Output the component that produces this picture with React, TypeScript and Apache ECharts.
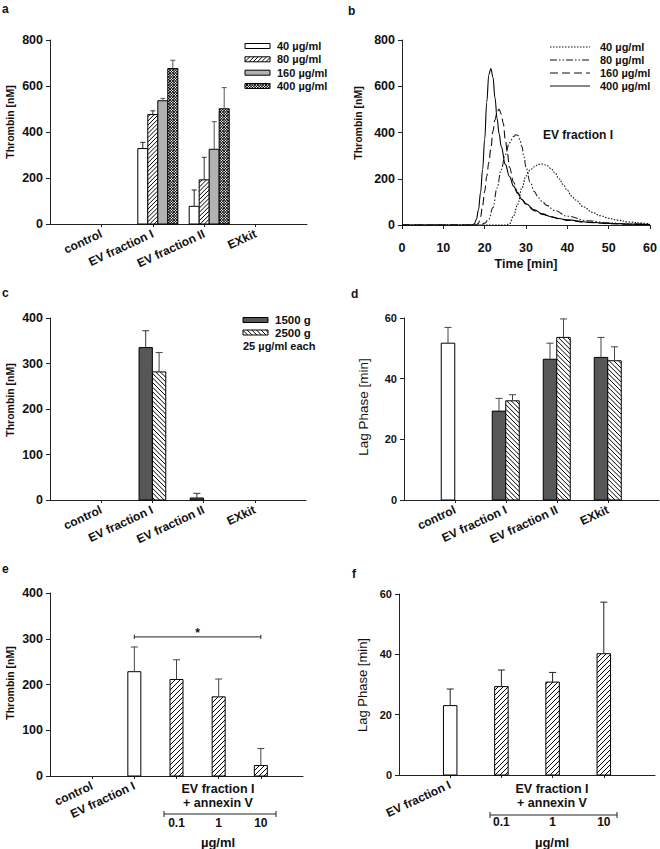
import React, { useEffect, useRef } from 'react';
import * as echarts from 'echarts';

const FONT = "'Liberation Sans', Arial, Helvetica, sans-serif";
const INK = '#111';
const AXIS = '#222';

// ---------- panel a : thrombin by dose ----------
const aCategories = ['control', 'EV fraction I', 'EV fraction II', 'EXkit'];
const aLegend = ['40 µg/ml', '80 µg/ml', '160 µg/ml', '400 µg/ml'];
const a40Mean = [null, 328, 77, null];
const a40Err = [null, 355, 148, null];
const a80Mean = [null, 476, 192, null];
const a80Err = [null, 492, 290, null];
const a160Mean = [null, 536, 325, null];
const a160Err = [null, 546, 445, null];
const a400Mean = [null, 676, 501, null];
const a400Err = [null, 712, 593, null];

// ---------- panel b : thrombin generation curves ----------
const bLegend = ['40 µg/ml', '80 µg/ml', '160 µg/ml', '400 µg/ml'];
const t40 = [0, 25, 26, 27, 28, 29, 30, 31, 32, 33, 34, 35, 36, 37, 38, 39, 40, 41, 42, 44, 46, 48, 50, 52, 55, 58, 60];
const v40 = [0, 0, 5, 40, 90, 160, 212, 238, 252, 262, 264, 258, 245, 225, 200, 175, 150, 126, 108, 78, 55, 40, 29, 21, 13, 8, 5];
const t80 = [0, 19, 20, 21, 22, 23, 24, 25, 26, 27, 27.5, 28, 28.5, 29, 29.5, 30, 31, 32, 33, 34, 35, 37, 40, 45, 50, 55, 60];
const v80 = [0, 0, 8, 25, 75, 160, 240, 305, 355, 382, 390, 388, 370, 340, 295, 250, 185, 145, 118, 100, 85, 62, 38, 18, 9, 4, 2];
const t160 = [0, 18, 18.5, 19, 19.5, 20, 20.5, 21, 21.5, 22, 22.5, 23, 23.5, 24, 24.5, 25, 25.5, 26, 27, 28, 29, 30, 32, 34, 36, 38, 40, 45, 50, 55, 60];
const v160 = [0, 0, 8, 35, 85, 145, 210, 270, 330, 405, 455, 490, 500, 480, 440, 370, 310, 250, 185, 140, 110, 90, 62, 46, 35, 27, 20, 11, 6, 3, 2];
const t400 = [0, 17, 17.5, 18, 18.5, 19, 19.5, 20, 20.5, 21, 21.5, 22, 22.5, 23, 23.5, 24, 25, 26, 27, 28, 29, 30, 32, 34, 36, 38, 40, 45, 50, 55, 60];
const v400 = [0, 0, 5, 25, 65, 140, 240, 370, 530, 650, 677, 640, 550, 460, 395, 340, 262, 210, 168, 136, 110, 92, 66, 48, 36, 28, 22, 12, 7, 4, 2];

// ---------- panel c : thrombin by centrifugation ----------
const cCategories = ['control', 'EV fraction I', 'EV fraction II', 'EXkit'];
const cLegend = ['1500 g', '2500 g'];
const c1500Mean = [null, 335, 4.4, null];
const c1500Err = [null, 372, 14.6, null];
const c2500Mean = [null, 281.5, null, null];
const c2500Err = [null, 324, null, null];

// ---------- panel d : lag phase by centrifugation ----------
const dCategories = ['control', 'EV fraction I', 'EV fraction II', 'EXkit'];
const dControlMean = [51.7, null, null, null];
const dControlErr = [56.9, null, null, null];
const d1500Mean = [null, 29.3, 46.4, 47.0];
const d1500Err = [null, 33.5, 51.7, 53.6];
const d2500Mean = [null, 32.7, 53.6, 45.9];
const d2500Err = [null, 34.7, 59.7, 50.5];

// ---------- panel e : thrombin with annexin V ----------
const eCategories = ['control', 'EV fraction I', '', '', ''];
const eDoses = ['', '', '0.1', '1', '10'];
const ePlainMean = [null, 228, null, null, null];
const ePlainErr = [null, 282, null, null, null];
const eAnnexMean = [null, null, 211, 173, 23];
const eAnnexErr = [null, null, 254, 212, 60];
const eSignificance = [[2, 5, 304]];

// ---------- panel f : lag phase with annexin V ----------
const fCategories = ['EV fraction I', '', '', ''];
const fDoses = ['', '0.1', '1', '10'];
const fPlainMean = [23.0, null, null, null];
const fPlainErr = [28.5, null, null, null];
const fAnnexMean = [null, 29.3, 30.8, 40.2];
const fAnnexErr = [null, 34.8, 34.0, 57.3];

// ---------- fills ----------
const FILL_WHITE = { bg: '#ffffff' };
const FILL_GRAY = { bg: '#b2b2b2' };
const FILL_DARK = { bg: '#575757' };
const FILL_FWD_A = { bg: '#ffffff', hatch: 'fwd', step: 4.2 };
const FILL_FWD = { bg: '#ffffff', hatch: 'fwd', step: 5 };
const FILL_BACK = { bg: '#ffffff', hatch: 'back', step: 4.6 };
const FILL_CROSS = { bg: '#ffffff', hatch: 'cross', step: 2.7 };

function seg(x1: number, y1: number, x2: number, y2: number, stroke = '#000', lineWidth = 1, lineDash?: number[]) {
  const style: any = { stroke, lineWidth };
  if (lineDash) style.lineDash = lineDash;
  return { type: 'line', shape: { x1, y1, x2, y2 }, style };
}

function hatchLines(x0: number, y0: number, x1: number, y1: number, kind: string, step: number) {
  const out: any[] = [];
  if (x1 - x0 <= 0 || y1 - y0 <= 0) return out;
  const kinds = kind === 'cross' ? ['fwd', 'back'] : [kind];
  const lw = 1;
  for (const k of kinds) {
    if (k === 'fwd') {
      const start = Math.ceil((x0 + y0) / step) * step;
      for (let c = start; c < x1 + y1; c += step) {
        const xa = Math.max(x0, c - y1);
        const xb = Math.min(x1, c - y0);
        if (xb - xa > 0.3) out.push(seg(xa, c - xa, xb, c - xb, '#000', lw));
      }
    } else {
      const start = Math.ceil((y0 - x1) / step) * step;
      for (let c = start; c < y1 - x0; c += step) {
        const xa = Math.max(x0, y0 - c);
        const xb = Math.min(x1, y1 - c);
        if (xb - xa > 0.3) out.push(seg(xa, xa + c, xb, xb + c, '#000', lw));
      }
    }
  }
  return out;
}

function swatch(x: number, y: number, w: number, h: number, fill: any) {
  const els: any[] = [{ type: 'rect', shape: { x, y, width: w, height: h }, style: { fill: fill.bg, stroke: 'none' } }];
  if (fill.hatch) els.push(...hatchLines(x, y, x + w, y + h, fill.hatch, fill.step));
  els.push({ type: 'rect', shape: { x, y, width: w, height: h }, style: { fill: 'none', stroke: '#000', lineWidth: 1 } });
  return els;
}

function makeBarRender(offset: number, width: number, fill: any, capW: number, errColor: string) {
  return (_params: any, api: any) => {
    const xi = api.value(0);
    const v = api.value(1);
    const e = api.value(2);
    const p0 = api.coord([xi, 0]);
    const p1 = api.coord([xi, v]);
    const cx = p0[0] + offset;
    const x0 = cx - width / 2;
    const yT = p1[1];
    const yB = p0[1];
    const children: any[] = swatch(x0, yT, width, Math.max(0, yB - yT), fill);
    if (e != null && !isNaN(e) && e > v) {
      const pe = api.coord([xi, e]);
      children.push(seg(cx, yT, cx, pe[1], errColor, 1));
      children.push(seg(cx - capW / 2, pe[1], cx + capW / 2, pe[1], errColor, 1));
    }
    return { type: 'group', children };
  };
}

function barSeries(name: string, grid: number, means: any[], errs: any[], offset: number, width: number, fill: any, capW: number, errColor = '#333') {
  const data = means
    .map((m, i) => (m == null ? null : [i + 1, m, errs[i]]))
    .filter((d) => d !== null);
  return {
    type: 'custom',
    name,
    xAxisIndex: grid,
    yAxisIndex: grid,
    data,
    encode: { x: 0, y: 1 },
    clip: false,
    renderItem: makeBarRender(offset, width, fill, capW, errColor),
  };
}

function yAxisCfg(grid: number, max: number, interval: number, fontSize: number) {
  return {
    type: 'value',
    gridIndex: grid,
    min: 0,
    max,
    interval,
    axisLine: { show: true, lineStyle: { color: AXIS, width: 1 } },
    axisTick: { show: true, inside: false, length: 4, lineStyle: { color: AXIS } },
    splitLine: { show: false },
    axisLabel: { color: INK, fontFamily: FONT, fontWeight: 'bold', fontSize, margin: 7 },
  };
}

function catAxisCfg(grid: number, cats: string[]) {
  const data = ['', ...cats, ''];
  return {
    type: 'category',
    gridIndex: grid,
    data,
    boundaryGap: false,
    axisLine: { show: true, onZero: false, lineStyle: { color: AXIS, width: 1 } },
    axisTick: { show: true, length: 3, interval: (i: number) => i > 0 && i < data.length - 1, lineStyle: { color: AXIS } },
    splitLine: { show: false },
    axisLabel: { interval: 0, rotate: 25, margin: 9, color: INK, fontFamily: FONT, fontWeight: 'bold', fontSize: 12 },
  };
}

function doseAxisCfg(grid: number, doses: string[]) {
  const data = ['', ...doses, ''];
  return {
    type: 'category',
    gridIndex: grid,
    data,
    boundaryGap: false,
    position: 'bottom',
    axisLine: { show: false },
    axisTick: { show: false },
    splitLine: { show: false },
    axisLabel: { interval: 0, margin: 41, color: INK, fontFamily: FONT, fontWeight: 'bold', fontSize: 12 },
  };
}

function zip(t: number[], v: number[]) {
  return t.map((x, i) => [x, v[i]]);
}

function text(x: number, y: number, s: string, opts: any = {}) {
  const align = opts.align || 'left';
  const va = opts.va || 'middle';
  return {
    type: 'text',
    x,
    y,
    rotation: opts.rotation || 0,
    style: {
      text: s,
      font: `${opts.weight || 'bold'} ${opts.size || 11}px ${FONT}`,
      fill: INK,
      align,
      verticalAlign: va,
      textAlign: align,
      textVerticalAlign: va,
    },
  };
}

const DASH_40 = [1.5, 1.5];
const DASH_80 = [7, 2, 1.5, 2, 1.5, 2];
const DASH_160 = [8, 4];

function buildOption() {
  const grids = [
    { left: 50, top: 40, width: 257, height: 184 },
    { left: 402, top: 40, width: 248, height: 185 },
    { left: 50, top: 318, width: 256, height: 182 },
    { left: 404, top: 318, width: 255, height: 182 },
    { left: 50, top: 593, width: 253, height: 183 },
    { left: 399, top: 594, width: 256, height: 181 },
  ].map((g) => ({ ...g, containLabel: false, outerBoundsMode: 'none' }));

  const timeAxis = {
    type: 'value',
    gridIndex: 1,
    min: 0,
    max: 60,
    interval: 10,
    axisLine: { show: true, onZero: false, lineStyle: { color: AXIS, width: 1 } },
    axisTick: { show: true, length: 4, lineStyle: { color: AXIS } },
    splitLine: { show: false },
    axisLabel: { color: INK, fontFamily: FONT, fontWeight: 'bold', fontSize: 12.5, margin: 16 },
    name: 'Time [min]',
    nameLocation: 'middle',
    nameGap: 32,
    nameTextStyle: { color: INK, fontFamily: FONT, fontWeight: 'bold', fontSize: 12.5 },
  };

  const xAxis = [
    catAxisCfg(0, aCategories),
    timeAxis,
    catAxisCfg(2, cCategories),
    catAxisCfg(3, dCategories),
    catAxisCfg(4, eCategories),
    catAxisCfg(5, fCategories),
    doseAxisCfg(4, eDoses),
    doseAxisCfg(5, fDoses),
  ];
  const yAxis = [
    yAxisCfg(0, 800, 200, 12.5),
    yAxisCfg(1, 800, 200, 12.5),
    yAxisCfg(2, 400, 100, 12.5),
    yAxisCfg(3, 60, 20, 11),
    yAxisCfg(4, 400, 100, 12.5),
    yAxisCfg(5, 60, 20, 11),
  ];

  const lineSeries = (name: string, t: number[], v: number[], dash: any, color: string) => ({
    type: 'line',
    name,
    xAxisIndex: 1,
    yAxisIndex: 1,
    data: zip(t, v),
    showSymbol: false,
    symbol: 'none',
    smooth: 0.4,
    smoothMonotone: 'x',
    lineStyle: { color, width: 1.1, type: dash },
    z: 3,
  });

  const series: any[] = [
    barSeries(aLegend[0], 0, a40Mean, a40Err, -10, 10, FILL_WHITE, 5, '#222'),
    barSeries(aLegend[1], 0, a80Mean, a80Err, 0, 10, FILL_FWD_A, 5, '#333'),
    barSeries(aLegend[2], 0, a160Mean, a160Err, 10, 10, FILL_GRAY, 5, '#555'),
    barSeries(aLegend[3], 0, a400Mean, a400Err, 20, 10, FILL_CROSS, 5, '#555'),
    lineSeries(bLegend[0], t40, v40, DASH_40, '#111'),
    lineSeries(bLegend[1], t80, v80, DASH_80, '#222'),
    lineSeries(bLegend[2], t160, v160, DASH_160, '#111'),
    lineSeries(bLegend[3], t400, v400, 'solid', '#000'),
    barSeries(cLegend[0], 2, c1500Mean, c1500Err, -6.7, 13.3, FILL_DARK, 7, '#333'),
    barSeries(cLegend[1], 2, c2500Mean, c2500Err, 6.7, 13.3, FILL_BACK, 7, '#444'),
    barSeries('control', 3, dControlMean, dControlErr, -7, 13.5, FILL_WHITE, 7, '#444'),
    barSeries(cLegend[0], 3, d1500Mean, d1500Err, -7, 13.5, FILL_DARK, 7, '#444'),
    barSeries(cLegend[1], 3, d2500Mean, d2500Err, 6.5, 13.5, FILL_BACK, 7, '#444'),
    barSeries('EV fraction I', 4, ePlainMean, ePlainErr, 0, 13, FILL_WHITE, 7, '#444'),
    barSeries('EV fraction I + annexin V', 4, eAnnexMean, eAnnexErr, 0, 13, FILL_FWD, 7, '#444'),
    {
      type: 'custom',
      name: 'significance',
      xAxisIndex: 4,
      yAxisIndex: 4,
      data: eSignificance,
      encode: { x: 0, y: 2 },
      clip: false,
      renderItem: (_p: any, api: any) => {
        const a = api.coord([api.value(0), api.value(2)]);
        const b = api.coord([api.value(1), api.value(2)]);
        return {
          type: 'group',
          children: [
            seg(a[0], a[1], b[0], b[1], '#222', 1),
            seg(a[0], a[1] - 2, a[0], a[1] + 2, '#222', 1),
            seg(b[0], b[1] - 2, b[0], b[1] + 2, '#222', 1),
            {
              type: 'text',
              x: (a[0] + b[0]) / 2,
              y: a[1] - 4,
              style: { text: '*', font: `bold 12px ${FONT}`, fill: INK, align: 'center', verticalAlign: 'middle', textAlign: 'center', textVerticalAlign: 'middle' },
            },
          ],
        };
      },
    },
    barSeries('EV fraction I', 5, fPlainMean, fPlainErr, 0, 13.5, FILL_WHITE, 7, '#222'),
    barSeries('EV fraction I + annexin V', 5, fAnnexMean, fAnnexErr, 0, 13.5, FILL_FWD, 7, '#222'),
  ];

  const g: any[] = [];
  // panel letters
  g.push(text(2, 9, 'a', { size: 12 }));
  g.push(text(348, 11, 'b', { size: 12 }));
  g.push(text(2, 293, 'c', { size: 12 }));
  g.push(text(351, 294, 'd', { size: 12 }));
  g.push(text(2, 569, 'e', { size: 12 }));
  g.push(text(352, 574, 'f', { size: 12 }));
  // y titles
  g.push(text(9.5, 122, 'Thrombin [nM]', { align: 'center', rotation: Math.PI / 2, size: 10.5 }));
  g.push(text(358, 123, 'Thrombin [nM]', { align: 'center', rotation: Math.PI / 2, size: 10.5 }));
  g.push(text(9.5, 400, 'Thrombin [nM]', { align: 'center', rotation: Math.PI / 2, size: 10.5 }));
  g.push(text(363, 407, 'Lag Phase [min]', { align: 'center', rotation: Math.PI / 2, weight: 'normal', size: 13.5 }));
  g.push(text(9.5, 683, 'Thrombin [nM]', { align: 'center', rotation: Math.PI / 2, size: 10.5 }));
  g.push(text(362, 685, 'Lag Phase [min]', { align: 'center', rotation: Math.PI / 2, weight: 'normal', size: 13 }));

  // legend a
  const aFills = [FILL_WHITE, FILL_FWD_A, FILL_GRAY, FILL_CROSS];
  const aRows = [46, 59.3, 72.7, 86];
  aLegend.forEach((s, i) => {
    g.push(...swatch(245, aRows[i] - 2.5, 25, 5, aFills[i]));
    g.push(text(277, aRows[i], s, { size: 11 }));
  });
  // legend b
  const bDashes = [DASH_40, DASH_80, DASH_160, null];
  const bRows = [47, 60, 73, 86];
  bLegend.forEach((s, i) => {
    g.push(seg(550, bRows[i], 590, bRows[i], '#111', 1.1, bDashes[i] || undefined));
    g.push(text(600, bRows[i], s, { size: 11 }));
  });
  g.push(text(543, 135, 'EV fraction I', { size: 12 }));
  // legend c
  const cFills = [FILL_DARK, FILL_BACK];
  const cRows = [320, 332.5];
  cLegend.forEach((s, i) => {
    g.push(...swatch(243, cRows[i] - 2.5, 25, 5, cFills[i]));
    g.push(text(275, cRows[i], s, { size: 11.5 }));
  });
  g.push(text(243, 346, '25 µg/ml each', { size: 11 }));

  // e/f group annotation
  const groupNote = (cx: number, xa: number, xb: number, yb: number) => {
    g.push(text(cx, 789, 'EV fraction I', { align: 'center', size: 12.5 }));
    g.push(text(cx, 803, '+ annexin V', { align: 'center', size: 12.5 }));
    g.push(seg(xa, yb, xb, yb, '#222', 1));
    g.push(seg(xa, yb - 3, xa, yb + 3, '#222', 1));
    g.push(seg(xb, yb - 3, xb, yb + 3, '#222', 1));
    g.push(text(cx, 842, 'µg/ml', { align: 'center', size: 13 }));
  };
  groupNote(218, 164, 276, 814);
  groupNote(552, 490, 617, 815);

  return {
    animation: false,
    backgroundColor: '#ffffff',
    textStyle: { fontFamily: FONT },
    grid: grids,
    xAxis,
    yAxis,
    series,
    graphic: { elements: g },
  };
}

export default function App() {
  const ref = useRef<HTMLDivElement>(null);
  useEffect(() => {
    if (!ref.current) return;
    const chart = echarts.init(ref.current, null, { renderer: 'svg' });
    chart.setOption(buildOption() as any);
    return () => chart.dispose();
  }, []);
  return (
    <div
      ref={ref}
      style={{ position: 'absolute', left: 0, top: 0, width: 660, height: 849, background: '#fff' }}
    />
  );
}
